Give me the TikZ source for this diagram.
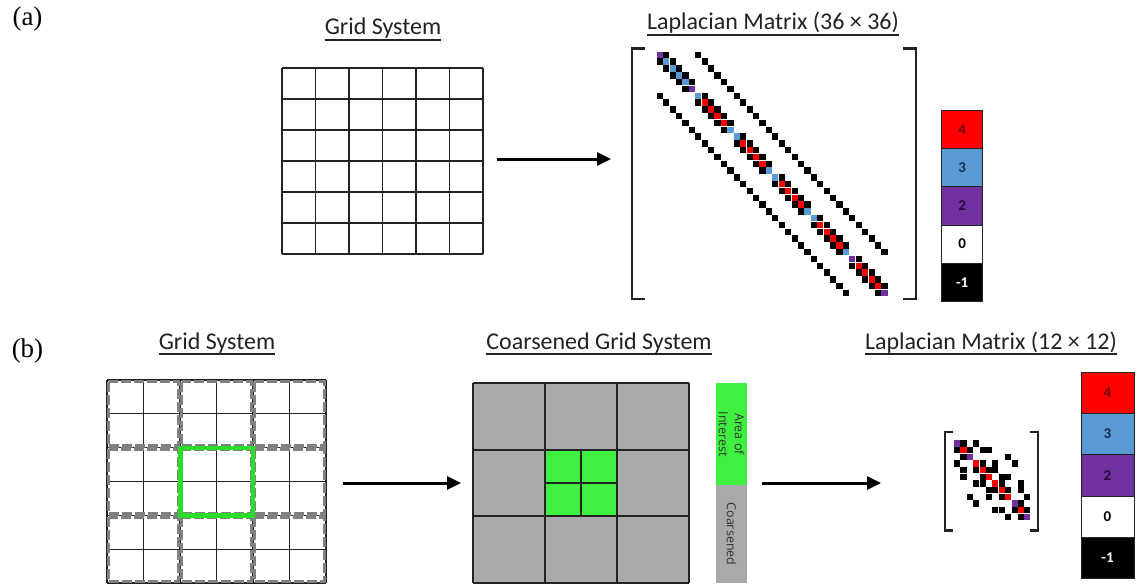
\documentclass[tikz,border=0pt]{standalone}
\usepackage{fontspec}
\setmainfont{Liberation Serif}
\newfontfamily\titlefont{Carlito}
\newfontfamily\legendfont{Open Sans}
\usetikzlibrary{arrows.meta}

\definecolor{lapred}{RGB}{255,0,0}
\definecolor{lapblue}{RGB}{91,155,213}
\definecolor{lappurple}{RGB}{112,48,160}
\definecolor{cellgray}{RGB}{171,168,168}
\definecolor{aoigreen}{RGB}{64,240,64}
\definecolor{framegreen}{RGB}{40,222,40}
\definecolor{dashgray}{RGB}{128,128,128}
\definecolor{inkgray}{RGB}{34,34,34}
\definecolor{txtred}{RGB}{110,0,0}
\definecolor{txtblue}{RGB}{20,45,85}
\definecolor{txtpurple}{RGB}{45,5,65}

\tikzset{
  panellabel/.style={font=\fontsize{27}{30}\selectfont, inner sep=0pt},
  heading/.style={font=\titlefont\fontsize{24}{28}\selectfont, text=inkgray, inner sep=0pt, anchor=base},
  headrule/.style={draw=inkgray, line width=1.4pt},
  flowarrow/.style={draw=black, line width=3pt, -{Triangle[length=14pt,width=13pt]}},
  gridline/.style={draw=inkgray, line width=1.8pt},
  thingrid/.style={draw=inkgray, line width=1.2pt},
  blockframe/.style={draw=dashgray, line width=3.4pt, dash pattern=on 10pt off 3pt},
  bracketline/.style={draw=inkgray, line width=2.2pt},
  barcell/.style={draw=inkgray, line width=0.6pt, inner sep=0pt,
    font=\titlefont\bfseries\fontsize{15}{17}\selectfont},
  legendtext/.style={font=\legendfont\fontsize{12.5}{16}\selectfont, text=black!80,
    rotate=-90, align=center, inner sep=0pt},
}

% one matrix entry: row, column, colour (origin and cell size set by \lox, \loy, \lcw, \lch)
\newcommand\lapcell[3]{\fill[#3] ({\lox+(#2)*\lcw},{\loy+(#1)*\lch}) rectangle ++({\lcw-0.25},{\lch-0.25});}

\begin{document}
\begin{tikzpicture}[x=1pt,y=-1pt]
\useasboundingbox (0,0) rectangle (1140,586);
\fill[white] (0,0) rectangle (1140,586);

% ---------------- panel labels ----------------
\node[panellabel] (labA) at (27.5,19.5) {(a)};
\node[panellabel] (labB) at (27.5,351) {(b)};

% ---------------- headings ----------------
\node[heading] (hGridA) at (383,35) {Grid System};
\node[heading] (hLapA) at (773,30) {Laplacian Matrix (36 × 36)};
\node[heading] (hGridB) at (217,349) {Grid System};
\node[heading] (hCoarse) at (599,349) {Coarsened Grid System};
\node[heading] (hLapB) at (991,349) {Laplacian Matrix (12 × 12)};
\foreach \h in {hGridA,hLapA,hGridB,hCoarse,hLapB}{
  \draw[headrule] ([yshift=-5pt]\h.base west) -- ([yshift=-5pt]\h.base east);
}

% ---------------- (a) 6x6 grid ----------------
\foreach \k in {0,...,6}{
  \draw[gridline] ({282+33.5*\k},68) -- ({282+33.5*\k},254);
  \draw[gridline] (282,{68+31*\k}) -- (483,{68+31*\k});
}

\coordinate (arrAfrom) at (497,159);
\coordinate (arrAto) at (611,159);
\draw[flowarrow] (arrAfrom) -- (arrAto);

% ---------------- (a) 36x36 Laplacian ----------------
\draw[bracketline] (645,48.5) -- (632,48.5) -- (632,299) -- (645,299);
\draw[bracketline] (903,48.5) -- (916,48.5) -- (916,299) -- (903,299);
\def\lox{656.7}\def\loy{51.7}\def\lcw{6.42}\def\lch{6.8}
\foreach \i in {0,...,35}{
  \pgfmathtruncatemacro\br{int(\i/6)}
  \pgfmathtruncatemacro\bc{\i-6*\br}
  \def\dcol{lapred}
  \ifnum\br=0 \def\dcol{lapblue}\fi
  \ifnum\bc=0 \def\dcol{lapblue}\ifnum\br=0 \def\dcol{lappurple}\fi\ifnum\br=5 \def\dcol{lappurple}\fi\fi
  \ifnum\bc=5 \def\dcol{lapblue}\ifnum\br=0 \def\dcol{lappurple}\fi\ifnum\br=5 \def\dcol{lappurple}\fi\fi
  \lapcell{\i}{\i}{\dcol}
  \ifnum\bc<5
    \pgfmathtruncatemacro\nx{\i+1}
    \lapcell{\i}{\nx}{black}\lapcell{\nx}{\i}{black}
  \fi
  \ifnum\i<30
    \pgfmathtruncatemacro\dn{\i+6}
    \lapcell{\i}{\dn}{black}\lapcell{\dn}{\i}{black}
  \fi
}

% ---------------- (a) colour key ----------------
\foreach \k/\col/\txt/\tc in {0/lapred/4/txtred,1/lapblue/3/txtblue,2/lappurple/2/txtpurple,3/white/0/black,4/black/-1/white}{
  \node[barcell, fill=\col, text=\tc, minimum width=41pt, minimum height=38.3pt]
    (keyA\k) at (962.2,{129.15+38.3*\k}) {\txt};
}

% ---------------- (b) fine grid with 3x3 blocks ----------------
\foreach \k in {0,...,6}{
  \draw[thingrid] ({107+36.5*\k},380) -- ({107+36.5*\k},583);
  \draw[thingrid] (107,{380+33.83*\k}) -- (326,{380+33.83*\k});
}
\foreach \bx in {0,1,2}{
  \foreach \by in {0,1,2}{
    \draw[blockframe] ({107+73*\bx+1.5},{380+67.67*\by+1.5}) rectangle ({107+73*(\bx+1)-1.5},{380+67.67*(\by+1)-1.5});
  }
}
\draw[draw=framegreen, line width=4.5pt] (180.5,448) rectangle (253,515.3);

\coordinate (arrBfrom) at (343,483);
\coordinate (arrBto) at (461,483);
\draw[flowarrow] (arrBfrom) -- (arrBto);

% ---------------- (b) coarsened grid ----------------
\fill[cellgray] (473,383) rectangle (689,583);
\fill[aoigreen] (545,449.7) rectangle (617,516.3);
\foreach \x in {473,545,617,689}{ \draw[gridline] (\x,383) -- (\x,583); }
\foreach \y in {383,449.7,516.3,583}{ \draw[gridline] (473,\y) -- (689,\y); }
\draw[gridline] (581,449.7) -- (581,516.3);
\draw[gridline] (545,483) -- (617,483);

% legend strip
\fill[aoigreen] (716,383) rectangle (747,485);
\fill[cellgray] (716,485) rectangle (747,583);
\node[legendtext] (legAoi) at (731.5,434) {Area of\\Interest};
\node[legendtext] (legCoarse) at (731.5,534) {Coarsened};

\coordinate (arrCfrom) at (762,483);
\coordinate (arrCto) at (881,483);
\draw[flowarrow] (arrCfrom) -- (arrCto);

% ---------------- (b) 12x12 Laplacian ----------------
\draw[bracketline] (953,432) -- (945,432) -- (945,530.5) -- (953,530.5);
\draw[bracketline] (1030,432) -- (1038,432) -- (1038,530.5) -- (1030,530.5);
\def\lox{954}\def\loy{440.3}\def\lcw{6.39}\def\lch{6.67}
\foreach \a/\b in {0/1,0/3,1/2,1/4,1/5,2/8,3/9,3/4,3/6,4/5,4/6,5/8,5/7,6/10,6/7,7/8,7/10,8/11,9/10,10/11}{
  \lapcell{\a}{\b}{black}\lapcell{\b}{\a}{black}
}
\foreach \i/\c in {0/lappurple,1/lapred,2/lappurple,3/lapred,4/lapred,5/lapred,6/lapred,7/lapred,8/lapred,9/lappurple,10/lapred,11/lappurple}{
  \lapcell{\i}{\i}{\c}
}

% ---------------- (b) colour key ----------------
\foreach \k/\col/\txt/\tc in {0/lapred/4/txtred,1/lapblue/3/txtblue,2/lappurple/2/txtpurple,3/white/0/black,4/black/-1/white}{
  \node[barcell, fill=\col, text=\tc, minimum width=53pt, minimum height=41.2pt]
    (keyB\k) at (1107.5,{392.9+41.2*\k}) {\txt};
}
\end{tikzpicture}
\end{document}
